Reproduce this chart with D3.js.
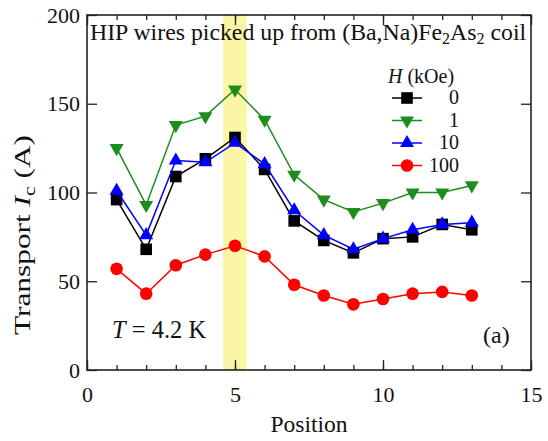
<!DOCTYPE html>
<html lang="en">
<head>
<meta charset="UTF-8">
<title>Transport Ic vs Position</title>
<script src="https://d3js.org/d3.v7.min.js"></script>
<style>
  body { margin: 0; background: #fff; }
  svg text { font-family: "Liberation Serif", "Times New Roman", serif; fill: #111; }
</style>
</head>
<body>
<script>
  // data
  const positions = [1, 2, 3, 4, 5, 6, 7, 8, 9, 10, 11, 12, 13];
  const fields = ["0", "1", "10", "100"];
  const ic0 = [96, 68, 109, 119, 131, 113, 84, 73, 66, 74, 75, 82, 79];
  const ic1 = [125, 93, 138, 143, 158, 141, 110, 96, 89, 94, 100, 100, 104];
  const ic10 = [101, 76, 118, 117, 128, 116, 90, 76, 68, 74, 79, 82, 83];
  const ic100 = [57, 43, 59, 65, 70, 64, 48, 42, 37, 40, 43, 44, 42];
  const band = [4.6, 5.4];
  const xTicks = [0, 5, 10, 15];
  const yTicks = [0, 50, 100, 150, 200];

  const series = [
    { name: fields[0], values: ic0, color: "#000000", shape: "square" },
    { name: fields[1], values: ic1, color: "#1e8c1e", shape: "down" },
    { name: fields[2], values: ic10, color: "#0000ff", shape: "up" },
    { name: fields[3], values: ic100, color: "#ff0000", shape: "circle" }
  ];

  const width = 548, height = 441;
  const margin = { left: 87, right: 17, top: 15, bottom: 71 };
  const iw = width - margin.left - margin.right;
  const ih = height - margin.top - margin.bottom;

  const svg = d3.select("body").append("svg").attr("width", width).attr("height", height)
    .attr("font-family", "Liberation Serif, serif");
  const g = svg.append("g").attr("transform", `translate(${margin.left},${margin.top})`);

  const x = d3.scaleLinear().domain([0, 15]).range([0, iw]);
  const y = d3.scaleLinear().domain([0, 200]).range([ih, 0]);

  // highlighted position
  g.append("rect")
    .attr("x", x(band[0])).attr("y", 0)
    .attr("width", x(band[1]) - x(band[0])).attr("height", ih)
    .attr("fill", "#fbf6a6");

  // axes, ticks pointing inward on all four sides
  const minor = d3.range(0, 16);
  g.append("g").attr("transform", `translate(0,${ih})`)
    .call(d3.axisBottom(x).tickValues(minor).tickSize(-5).tickFormat(""));
  g.append("g")
    .call(d3.axisTop(x).tickValues(minor).tickSize(-5).tickFormat(""));
  g.append("g").attr("transform", `translate(0,${ih})`)
    .call(d3.axisBottom(x).tickValues(xTicks).tickSize(-10).tickPadding(16).tickFormat(d3.format("d")))
    .call(a => a.selectAll("text").attr("font-size", 22));
  g.append("g")
    .call(d3.axisTop(x).tickValues(xTicks).tickSize(-10).tickFormat(""));
  g.append("g")
    .call(d3.axisLeft(y).tickValues(yTicks).tickSize(-10).tickPadding(7))
    .call(a => a.selectAll("text").attr("font-size", 22));
  g.append("g").attr("transform", `translate(${iw},0)`)
    .call(d3.axisRight(y).tickValues(yTicks).tickSize(-10).tickFormat(""));
  g.selectAll(".domain").remove();
  g.selectAll("g").attr("font-family", null);
  g.selectAll(".tick line").attr("stroke", "#222").attr("stroke-width", 1.3);

  g.append("rect").attr("width", iw).attr("height", ih)
    .attr("fill", "none").attr("stroke", "#222").attr("stroke-width", 1.6);

  // marker symbols
  const sym = {
    square: d3.symbol(d3.symbolSquare, 135),
    up: d3.symbol(d3.symbolTriangle, 85),
    down: d3.symbol(d3.symbolTriangle, 85),
    circle: d3.symbol(d3.symbolCircle, 125)
  };
  const rot = s => s === "down" ? " rotate(180)" : "";

  const line = d3.line().x((d, i) => x(positions[i])).y(d => y(d));

  series.forEach(s => {
    g.append("path").datum(s.values)
      .attr("d", line).attr("fill", "none")
      .attr("stroke", s.color).attr("stroke-width", 1.5);
    g.selectAll(null).data(s.values).join("path")
      .attr("d", sym[s.shape])
      .attr("transform", (d, i) => `translate(${x(positions[i])},${y(d)})${rot(s.shape)}`)
      .attr("fill", s.color);
  });

  // title inside frame
  const title = g.append("text").attr("x", 3).attr("y", 25).attr("font-size", 23.8);
  title.append("tspan").text("HIP wires picked up from (Ba,Na)Fe");
  title.append("tspan").text("2").attr("font-size", 16).attr("dy", 4);
  title.append("tspan").text("As").attr("dy", -4);
  title.append("tspan").text("2").attr("font-size", 16).attr("dy", 4);
  title.append("tspan").text(" coil").attr("dy", -4);

  // legend
  const lg = g.append("g").attr("transform", "translate(301,0)");
  const lt = lg.append("text").attr("x", 0).attr("y", 68).attr("font-size", 20);
  lt.append("tspan").text("H").attr("font-style", "italic");
  lt.append("tspan").text(" (kOe)");
  series.forEach((s, i) => {
    const yy = 83 + i * 22.5;
    lg.append("line").attr("x1", 4).attr("x2", 34).attr("y1", yy).attr("y2", yy)
      .attr("stroke", s.color).attr("stroke-width", 1.5);
    lg.append("path").attr("d", sym[s.shape])
      .attr("transform", `translate(19,${yy})${rot(s.shape)}`).attr("fill", s.color);
    lg.append("text").attr("x", 71).attr("y", yy + 6).attr("text-anchor", "end")
      .attr("font-size", 20).text(s.name);
  });

  // annotations
  const tt = g.append("text").attr("x", 25).attr("y", 323).attr("font-size", 24.5);
  tt.append("tspan").text("T").attr("font-style", "italic");
  tt.append("tspan").text(" = 4.2 K");
  g.append("text").attr("x", 396).attr("y", 328).attr("font-size", 24).text("(a)");

  // axis titles
  svg.append("text").attr("x", margin.left + iw / 2).attr("y", 432)
    .attr("text-anchor", "middle").attr("font-size", 23.5).text("Position");
  const yl = svg.append("text")
    .attr("transform", "translate(30,235) rotate(-90)")
    .attr("text-anchor", "middle").attr("font-size", 23)
    .attr("textLength", 200).attr("lengthAdjust", "spacingAndGlyphs");
  yl.append("tspan").text("Transport ");
  yl.append("tspan").text("I").attr("font-style", "italic");
  yl.append("tspan").text("c").attr("font-size", 16).attr("dy", 5);
  yl.append("tspan").text(" (A)").attr("dy", -5);
</script>
</body>
</html>
